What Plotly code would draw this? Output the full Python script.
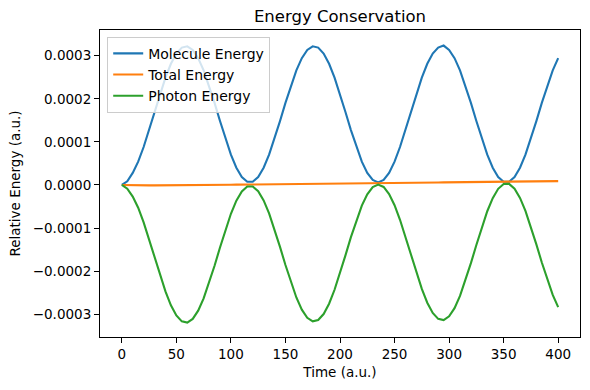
import plotly.graph_objects as go

# Time grid (a.u.), every 5 units from 0 to 400
time_au = [5 * k for k in range(81)]

# Values, in a.u.
molecule_energy = [
    0.0, 8.6e-6, 28.1e-6, 54.2e-6, 88.1e-6, 127.3e-6, 169.4e-6, 210.8e-6, 249.0e-6, 281.2e-6,
    305.0e-6, 318.8e-6, 321.7e-6, 313.3e-6, 294.3e-6, 266.0e-6, 230.6e-6, 190.4e-6, 148.3e-6, 107.2e-6,
    70.3e-6, 40.0e-6, 18.5e-6, 7.4e-6, 7.4e-6, 18.5e-6, 40.0e-6, 70.3e-6, 107.2e-6, 148.3e-6,
    190.4e-6, 230.6e-6, 266.0e-6, 294.3e-6, 313.3e-6, 321.7e-6, 318.8e-6, 305.0e-6, 281.2e-6, 249.0e-6,
    210.8e-6, 169.4e-6, 127.3e-6, 88.1e-6, 54.2e-6, 28.1e-6, 11.6e-6, 6.0e-6, 11.6e-6, 28.1e-6,
    54.2e-6, 88.1e-6, 127.3e-6, 169.4e-6, 210.8e-6, 249.0e-6, 281.2e-6, 305.0e-6, 318.8e-6, 323.5e-6,
    313.3e-6, 294.3e-6, 266.0e-6, 230.6e-6, 190.4e-6, 148.3e-6, 107.2e-6, 70.3e-6, 40.0e-6, 18.5e-6,
    7.4e-6, 7.4e-6, 18.5e-6, 40.0e-6, 70.3e-6, 107.2e-6, 148.3e-6, 190.4e-6, 230.6e-6, 266.0e-6,
    294.3e-6,
]

total_energy = [
    0.0, -0.5e-6, -1.0e-6, -1.0e-6, -1.0e-6, -1.0e-6, -1.0e-6, -1.0e-6, -1.0e-6, -0.9e-6,
    -0.7e-6, -0.6e-6, -0.4e-6, -0.3e-6, -0.2e-6, 0.0, 0.1e-6, 0.3e-6, 0.4e-6, 0.5e-6,
    0.7e-6, 0.8e-6, 0.9e-6, 1.1e-6, 1.2e-6, 1.4e-6, 1.5e-6, 1.6e-6, 1.8e-6, 1.9e-6,
    2.1e-6, 2.2e-6, 2.3e-6, 2.5e-6, 2.6e-6, 2.8e-6, 2.9e-6, 3.0e-6, 3.2e-6, 3.3e-6,
    3.4e-6, 3.6e-6, 3.7e-6, 3.9e-6, 4.0e-6, 4.1e-6, 4.3e-6, 4.4e-6, 4.6e-6, 4.7e-6,
    4.8e-6, 5.0e-6, 5.1e-6, 5.3e-6, 5.4e-6, 5.5e-6, 5.7e-6, 5.8e-6, 5.9e-6, 6.1e-6,
    6.2e-6, 6.4e-6, 6.5e-6, 6.6e-6, 6.8e-6, 6.9e-6, 7.1e-6, 7.2e-6, 7.3e-6, 7.5e-6,
    7.6e-6, 7.8e-6, 7.9e-6, 8.0e-6, 8.2e-6, 8.3e-6, 8.4e-6, 8.6e-6, 8.7e-6, 8.9e-6,
    9.0e-6,
]

photon_energy = [
    0.0, -8.6e-6, -26.9e-6, -52.8e-6, -86.6e-6, -125.7e-6, -167.7e-6, -208.9e-6, -247.0e-6, -279.1e-6,
    -302.8e-6, -316.4e-6, -319.2e-6, -310.7e-6, -291.6e-6, -263.1e-6, -227.6e-6, -187.3e-6, -145.1e-6, -103.8e-6,
    -66.8e-6, -36.4e-6, -14.8e-6, -3.5e-6, -3.4e-6, -14.4e-6, -35.8e-6, -65.9e-6, -102.7e-6, -143.7e-6,
    -185.7e-6, -225.7e-6, -261.0e-6, -289.2e-6, -308.1e-6, -316.3e-6, -313.3e-6, -299.4e-6, -275.5e-6, -243.1e-6,
    -204.8e-6, -163.3e-6, -121.1e-6, -81.7e-6, -47.7e-6, -21.5e-6, -4.9e-6, 0.9e-6, -4.6e-6, -21.0e-6,
    -47.0e-6, -80.7e-6, -119.8e-6, -161.8e-6, -203.1e-6, -241.1e-6, -273.2e-6, -296.9e-6, -310.6e-6, -313.3e-6,
    -304.8e-6, -285.7e-6, -257.3e-6, -221.7e-6, -181.4e-6, -139.2e-6, -98.0e-6, -60.9e-6, -30.5e-6, -8.9e-6,
    2.4e-6, 2.5e-6, -8.5e-6, -29.9e-6, -60.1e-6, -96.8e-6, -137.8e-6, -179.8e-6, -219.9e-6, -255.1e-6,
    -283.3e-6,
]

x_ticks = [0, 50, 100, 150, 200, 250, 300, 350, 400]
y_ticks = [-0.0003, -0.0002, -0.0001, 0.0, 0.0001, 0.0002, 0.0003]
y_tick_labels = ["\u22120.0003", "\u22120.0002", "\u22120.0001", "0.0000", "0.0001", "0.0002", "0.0003"]

FONT = "DejaVu Sans"

fig = go.Figure()
fig.add_trace(go.Scatter(x=time_au, y=molecule_energy, mode="lines", name="Molecule Energy",
                         line=dict(color="#1f77b4", width=2.1)))
fig.add_trace(go.Scatter(x=time_au, y=total_energy, mode="lines", name="Total Energy",
                         line=dict(color="#ff7f0e", width=2.1)))
fig.add_trace(go.Scatter(x=time_au, y=photon_energy, mode="lines", name="Photon Energy",
                         line=dict(color="#2ca02c", width=2.1)))

axis_common = dict(
    showline=True, linecolor="black", linewidth=1.1, mirror=True,
    ticks="outside", ticklen=5, tickwidth=1.1, tickcolor="black",
    showgrid=False, zeroline=False, automargin=False,
    tickfont=dict(family=FONT, size=13.5, color="black"),
)

fig.update_layout(
    width=590, height=390,
    margin=dict(l=100, r=10, t=30, b=53),
    paper_bgcolor="white", plot_bgcolor="white",
    font=dict(family=FONT, color="black"),
    title=dict(text="Energy Conservation", x=0.5, xref="paper", xanchor="center",
               y=1 - 16 / 390, yref="container", yanchor="middle",
               font=dict(family=FONT, size=16.5, color="black"),
               automargin=False),
    xaxis=dict(range=[-20, 420], tickvals=x_ticks, ticktext=[str(v) for v in x_ticks],
               title=dict(text="Time (a.u.)", font=dict(family=FONT, size=13.5), standoff=6),
               **axis_common),
    yaxis=dict(range=[-0.0003527, 0.0003596], tickvals=y_ticks, ticktext=y_tick_labels,
               title=dict(text="Relative Energy (a.u.)", font=dict(family=FONT, size=13.5), standoff=8),
               **axis_common),
    legend=dict(x=0.015, y=0.978, xanchor="left", yanchor="top",
                bgcolor="rgba(255,255,255,0.8)", bordercolor="#cccccc", borderwidth=1,
                font=dict(family=FONT, size=14, color="black"),
                itemwidth=30, tracegroupgap=0),
    showlegend=True,
)

fig.write_html("out.html", config={"displayModeBar": False},
               post_script="document.body.style.margin='0';document.body.style.overflow='hidden';")
